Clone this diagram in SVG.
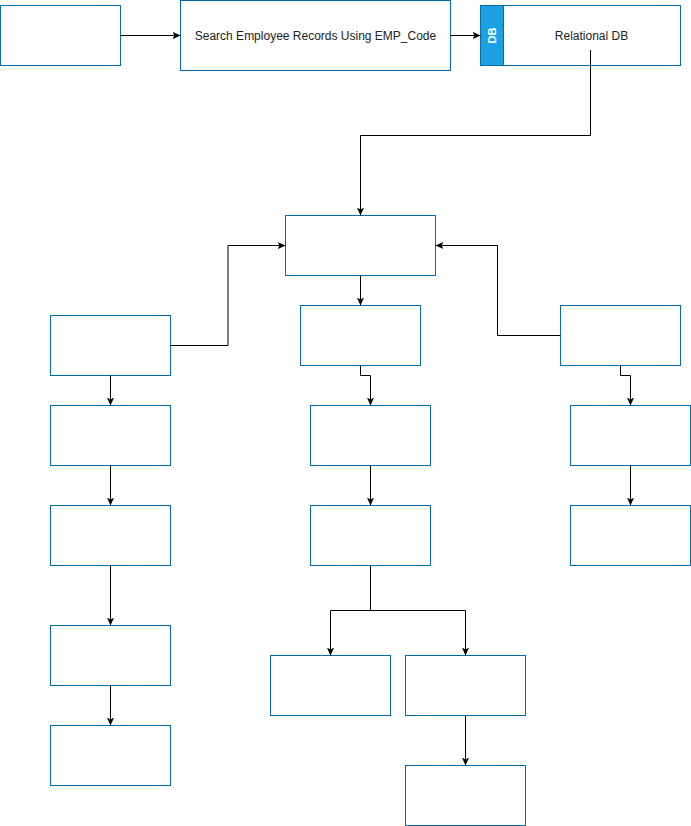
<svg xmlns="http://www.w3.org/2000/svg" width="691" height="826" viewBox="0 0 691 826">
<style>
.box{fill:#ffffff;stroke:#006EAF;stroke-width:1}
.lbl{font-family:"Liberation Sans",Arial,sans-serif;font-size:12px;fill:#222;text-anchor:middle;dominant-baseline:central}
.edge{fill:none;stroke:#000;stroke-width:1}
.arr{marker-end:url(#ah)}
</style>
<defs>
<marker id="ah" viewBox="0 0 10 10" refX="10" refY="5" markerWidth="8" markerHeight="8" markerUnits="userSpaceOnUse" orient="auto">
<path d="M0,0.5 L10,5 L0,9.5 L2.5,5 z" fill="#000"/>
</marker>
</defs>
<rect x="0" y="0" width="691" height="826" fill="#ffffff"/>
<g id="n-start"><rect class="box" x="0.5" y="5.5" width="120" height="60"/></g>
<g id="n-search"><rect class="box" x="180.5" y="0.5" width="270" height="70"/><text class="lbl" x="315.5" y="35.5">Search Employee Records Using EMP_Code</text></g>
<g id="n-db">
<rect class="box" x="480.5" y="5.5" width="200" height="60"/>
<rect x="480.5" y="5.5" width="23" height="60" fill="#1BA1E2" stroke="#006EAF"/>
<text x="0" y="0" transform="translate(492,35.5) rotate(-90)" font-family="'Liberation Sans',Arial,sans-serif" font-size="11px" font-weight="bold" fill="#ffffff" text-anchor="middle" dominant-baseline="central">DB</text>
<text class="lbl" x="591.5" y="35.5">Relational DB</text>
</g>
<g id="n-center"><rect class="box" x="285.5" y="215.5" width="150" height="60"/></g>
<g id="n-c1"><rect class="box" x="300.5" y="305.5" width="120" height="60"/></g>
<g id="n-r1"><rect class="box" x="560.5" y="305.5" width="120" height="60"/></g>
<g id="n-l1"><rect class="box" x="50.5" y="315.5" width="120" height="60"/></g>
<g id="n-l2"><rect class="box" x="50.5" y="405.5" width="120" height="60"/></g>
<g id="n-l3"><rect class="box" x="50.5" y="505.5" width="120" height="60"/></g>
<g id="n-l4"><rect class="box" x="50.5" y="625.5" width="120" height="60"/></g>
<g id="n-l5"><rect class="box" x="50.5" y="725.5" width="120" height="60"/></g>
<g id="n-c2"><rect class="box" x="310.5" y="405.5" width="120" height="60"/></g>
<g id="n-c3"><rect class="box" x="310.5" y="505.5" width="120" height="60"/></g>
<g id="n-c4"><rect class="box" x="270.5" y="655.5" width="120" height="60"/></g>
<g id="n-c5"><rect class="box" x="405.5" y="655.5" width="120" height="60"/></g>
<g id="n-c6"><rect class="box" x="405.5" y="765.5" width="120" height="60"/></g>
<g id="n-r2"><rect class="box" x="570.5" y="405.5" width="120" height="60"/></g>
<g id="n-r3"><rect class="box" x="570.5" y="505.5" width="120" height="60"/></g>
<g id="edges">
<path class="edge arr" d="M120.5,35.5 L180.5,35.5"/>
<path class="edge arr" d="M450.5,35.5 L480.5,35.5"/>
<path class="edge arr" d="M590.5,50 L590.5,135.5 L360.5,135.5 L360.5,215.5"/>
<path class="edge arr" d="M170.5,345.5 L228,345.5 L228,245.5 L285.5,245.5"/>
<path class="edge arr" d="M560.5,335.5 L497.5,335.5 L497.5,245.5 L435.5,245.5"/>
<path class="edge arr" d="M360.5,275.5 L360.5,305.5"/>
<path class="edge arr" d="M360.5,365.5 L360.5,375.5 L370.5,375.5 L370.5,405.5"/>
<path class="edge arr" d="M620.5,365.5 L620.5,375.5 L630.5,375.5 L630.5,405.5"/>
<path class="edge arr" d="M110.5,375.5 L110.5,405.5"/>
<path class="edge arr" d="M110.5,465.5 L110.5,505.5"/>
<path class="edge arr" d="M110.5,565.5 L110.5,625.5"/>
<path class="edge arr" d="M110.5,685.5 L110.5,725.5"/>
<path class="edge arr" d="M370.5,465.5 L370.5,505.5"/>
<path class="edge arr" d="M370.5,565.5 L370.5,610.5 L330.5,610.5 L330.5,655.5"/>
<path class="edge arr" d="M370.5,610.5 L465.5,610.5 L465.5,655.5"/>
<path class="edge arr" d="M465.5,715.5 L465.5,765.5"/>
<path class="edge arr" d="M630.5,465.5 L630.5,505.5"/>
</g>
</svg>
